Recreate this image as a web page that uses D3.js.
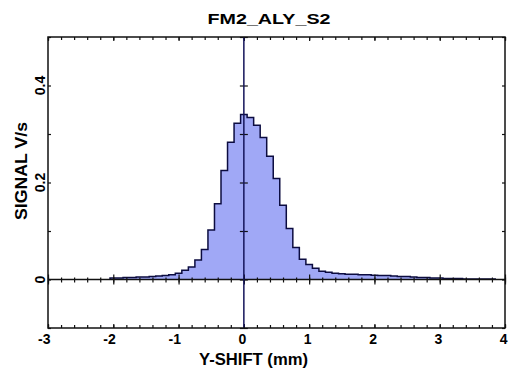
<!DOCTYPE html>
<html>
<head>
<meta charset="utf-8">
<script src="https://cdn.jsdelivr.net/npm/d3@7"></script>
<style>
  html, body { margin: 0; padding: 0; background: #fff; }
  svg { display: block; font-family: "Liberation Sans", Arial, sans-serif; font-weight: bold; }
</style>
</head>
<body>
<svg id="chart" width="520" height="374"></svg>
<script>
// histogram bins: centre of each bin (mm) and measured signal (V/s)
const shiftMm = [-2.0, -1.9, -1.8, -1.7, -1.6, -1.5, -1.4, -1.3, -1.2, -1.1,
                 -1.0, -0.9, -0.8, -0.7, -0.6, -0.5, -0.4, -0.3, -0.2, -0.1,
                  0.0,  0.1,  0.2,  0.3,  0.4,  0.5,  0.6,  0.7,  0.8,  0.9,
                  1.0,  1.1,  1.2,  1.3,  1.4,  1.5,  1.6,  1.7,  1.8,  1.9,
                  2.0,  2.1,  2.2,  2.3,  2.4,  2.5,  2.6,  2.7,  2.8,  2.9,
                  3.0,  3.1,  3.2,  3.3,  3.4,  3.5,  3.6,  3.7,  3.8];
const signal  = [0.003, 0.003, 0.004, 0.004, 0.005, 0.005, 0.006, 0.007, 0.008, 0.010,
                 0.013, 0.019, 0.026, 0.040, 0.062, 0.102, 0.156, 0.225, 0.283, 0.322,
                 0.340, 0.334, 0.318, 0.293, 0.254, 0.208, 0.153, 0.105, 0.066, 0.042,
                 0.031, 0.023, 0.017, 0.015, 0.013, 0.012, 0.011, 0.011, 0.010, 0.010,
                 0.009, 0.008, 0.008, 0.007, 0.006, 0.006, 0.005, 0.004, 0.004, 0.003,
                 0.003, 0.002, 0.002, 0.002, 0.001, 0.001, 0.001, 0.001, 0.001];
const binWidth = 0.1;

const xTickLabels = [-3, -2, -1, 0, 1, 2, 3, 4];
const yTickLabels = [0, 0.2, 0.4];

const svg = d3.select('#chart');
const pLeft = 48, pRight = 505, pTop = 37, pBottom = 328;

const x = d3.scaleLinear().domain([-3, 4]).range([pLeft, pRight]);
const y = d3.scaleLinear().domain([-0.1, 0.5]).range([pBottom, pTop]);

// step outline points: rise at first edge, step across bins, drop at last edge
const pts = [{ x: shiftMm[0] - binWidth / 2, v: 0 }];
shiftMm.forEach((c, i) => pts.push({ x: c - binWidth / 2, v: signal[i] }));
pts.push({ x: shiftMm[shiftMm.length - 1] + binWidth / 2, v: signal[signal.length - 1] });
pts.push({ x: shiftMm[shiftMm.length - 1] + binWidth / 2, v: 0 });

const area = d3.area().curve(d3.curveStepAfter)
  .x(d => x(d.x)).y0(y(0)).y1(d => y(d.v));
const line = d3.line().curve(d3.curveStepAfter)
  .x(d => x(d.x)).y(d => y(d.v));

svg.append('path').attr('d', area(pts)).attr('fill', '#a0a8f6');
svg.append('path').attr('d', line(pts))
  .attr('fill', 'none').attr('stroke', '#0c0c40').attr('stroke-width', 1.5);

const minorX = d3.range(-3, 4.001, 0.2).map(v => +v.toFixed(1));
const minorY = d3.range(-0.1, 0.5001, 0.1).map(v => +v.toFixed(1));

// frame axes
const fmt = () => '';
function ticks(gen, tx, ty) {
  svg.append('g').attr('transform', `translate(${tx},${ty})`).call(gen.tickSizeOuter(0).tickFormat(fmt));
}
ticks(d3.axisBottom(x).tickValues(minorX).tickSizeInner(-3), 0, pBottom);
ticks(d3.axisBottom(x).tickValues(xTickLabels).tickSizeInner(-4), 0, pBottom);
ticks(d3.axisTop(x).tickValues(minorX).tickSizeInner(-3), 0, pTop);
ticks(d3.axisTop(x).tickValues(xTickLabels).tickSizeInner(-4), 0, pTop);
ticks(d3.axisLeft(y).tickValues(minorY).tickSizeInner(-3), pLeft, 0);
ticks(d3.axisRight(y).tickValues(minorY).tickSizeInner(-3), pRight, 0);

// zero lines with crossing ticks
ticks(d3.axisBottom(x).tickValues(minorX).tickSizeInner(3), 0, y(0));
ticks(d3.axisTop(x).tickValues(minorX).tickSizeInner(2), 0, y(0));
ticks(d3.axisBottom(x).tickValues(xTickLabels).tickSizeInner(5), 0, y(0));
ticks(d3.axisTop(x).tickValues(xTickLabels).tickSizeInner(5), 0, y(0));
ticks(d3.axisLeft(y).tickValues(minorY).tickSizeInner(4), x(0), 0);
ticks(d3.axisRight(y).tickValues(minorY).tickSizeInner(4), x(0), 0);

svg.selectAll('.domain').remove();
svg.selectAll('.tick line').attr('stroke', '#111').attr('stroke-width', 1.2);

svg.append('line').attr('x1', pLeft).attr('x2', pRight).attr('y1', y(0)).attr('y2', y(0))
  .attr('stroke', '#111').attr('stroke-width', 1.5);
svg.append('line').attr('x1', x(0)).attr('x2', x(0)).attr('y1', pTop).attr('y2', pBottom)
  .attr('stroke', '#14145a').attr('stroke-width', 1.5);

svg.append('rect').attr('x', pLeft).attr('y', pTop)
  .attr('width', pRight - pLeft).attr('height', pBottom - pTop)
  .attr('fill', 'none').attr('stroke', '#111').attr('stroke-width', 1.5);

// tick labels
svg.append('g').selectAll('text').data(xTickLabels).join('text')
  .attr('x', d => x(d) + 2.5).attr('y', 344)
  .attr('text-anchor', 'end').attr('font-size', 14)
  .text(d => d);

svg.append('g').selectAll('text').data(yTickLabels).join('text')
  .attr('transform', d => `translate(45,${y(d)}) rotate(-90)`)
  .attr('text-anchor', 'middle').attr('font-size', 14)
  .text(d => d);

// titles
svg.append('text').attr('x', 269).attr('y', 24).attr('text-anchor', 'middle')
  .attr('font-size', 15).attr('textLength', 123).attr('lengthAdjust', 'spacingAndGlyphs')
  .text('FM2_ALY_S2');
svg.append('text').attr('x', 253.5).attr('y', 365).attr('text-anchor', 'middle')
  .attr('font-size', 16).attr('textLength', 109).attr('lengthAdjust', 'spacingAndGlyphs')
  .text('Y-SHIFT (mm)');
svg.append('text').attr('transform', 'translate(27,171) rotate(-90)').attr('text-anchor', 'middle')
  .attr('font-size', 16).attr('textLength', 98).attr('lengthAdjust', 'spacingAndGlyphs')
  .text('SIGNAL V/s');
</script>
</body>
</html>
